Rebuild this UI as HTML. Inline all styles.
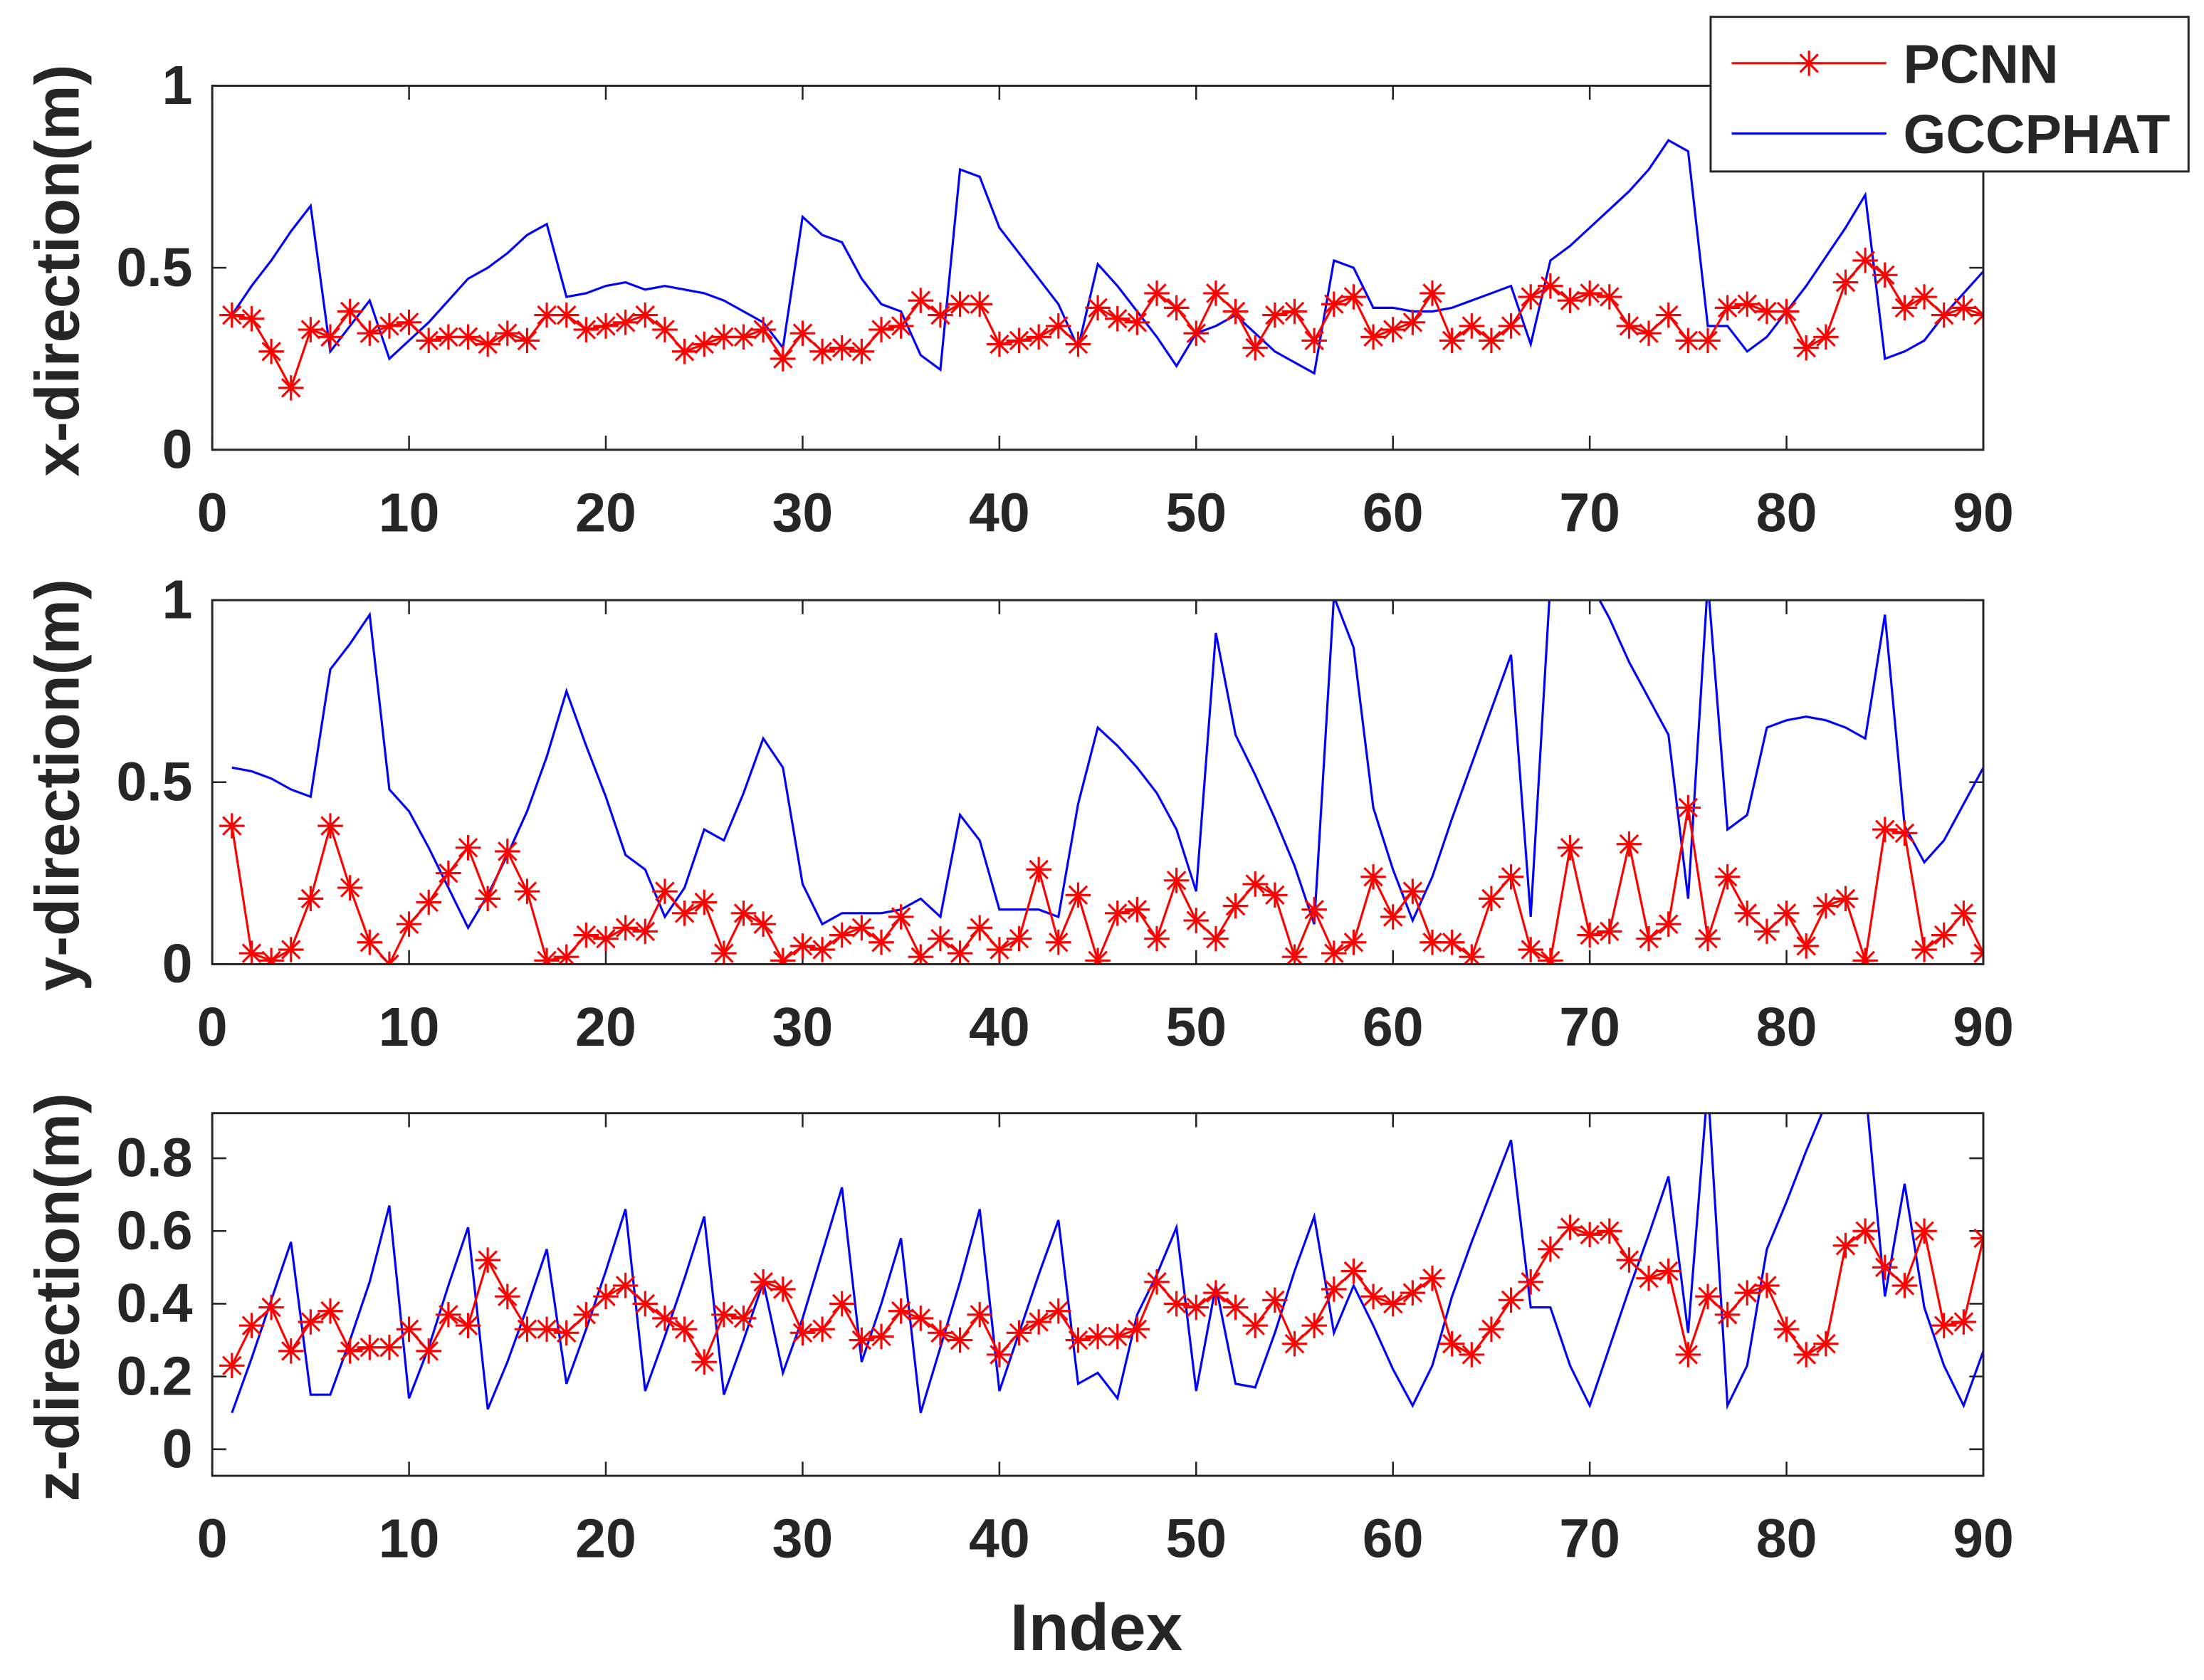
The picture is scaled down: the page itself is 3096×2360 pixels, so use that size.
<!DOCTYPE html>
<html><head><meta charset="utf-8"><style>
html,body{margin:0;padding:0;background:#fff}
svg{display:block}
text{font-family:"Liberation Sans",Arial,sans-serif;font-weight:bold;fill:#262626}
</style></head><body>
<svg id="chart" width="3096" height="2360" viewBox="0 0 1568 1195.3" preserveAspectRatio="none" xmlns="http://www.w3.org/2000/svg">
<rect width="1568" height="1196" fill="#fff"/>
</svg>
<script>
const xTicks=[0,10,20,30,40,50,60,70,80,90];
const pcnnX=[0.37,0.36,0.27,0.17,0.33,0.31,0.38,0.32,0.34,0.35,0.30,0.31,0.31,0.29,0.32,0.30,0.37,0.37,0.33,0.34,0.35,0.37,0.33,0.27,0.29,0.31,0.31,0.33,0.25,0.32,0.27,0.28,0.27,0.33,0.34,0.41,0.37,0.40,0.40,0.29,0.30,0.31,0.34,0.29,0.39,0.36,0.35,0.43,0.39,0.32,0.43,0.38,0.28,0.37,0.38,0.30,0.40,0.42,0.31,0.33,0.35,0.43,0.30,0.34,0.30,0.34,0.42,0.45,0.41,0.43,0.42,0.34,0.32,0.37,0.30,0.30,0.39,0.40,0.38,0.38,0.28,0.31,0.46,0.52,0.48,0.39,0.42,0.37,0.39,0.37];
const gccX=[0.37,0.45,0.52,0.60,0.67,0.27,0.34,0.41,0.25,0.30,0.35,0.41,0.47,0.50,0.54,0.59,0.62,0.42,0.43,0.45,0.46,0.44,0.45,0.44,0.43,0.41,0.38,0.35,0.28,0.64,0.59,0.57,0.47,0.40,0.38,0.26,0.22,0.77,0.75,0.61,0.54,0.47,0.40,0.28,0.51,0.45,0.38,0.31,0.23,0.32,0.34,0.37,0.32,0.27,0.24,0.21,0.52,0.50,0.39,0.39,0.38,0.38,0.39,0.41,0.43,0.45,0.29,0.52,0.56,0.61,0.66,0.71,0.77,0.85,0.82,0.34,0.34,0.27,0.31,0.38,0.45,0.53,0.61,0.70,0.25,0.27,0.30,0.37,0.43,0.49];
const pcnnY=[0.38,0.03,0.01,0.04,0.18,0.38,0.21,0.06,0.00,0.11,0.17,0.25,0.32,0.18,0.31,0.20,0.01,0.02,0.08,0.07,0.10,0.09,0.20,0.14,0.17,0.03,0.14,0.11,0.01,0.05,0.04,0.08,0.10,0.06,0.13,0.02,0.07,0.03,0.10,0.04,0.07,0.26,0.06,0.19,0.01,0.14,0.15,0.07,0.23,0.12,0.07,0.16,0.22,0.19,0.02,0.15,0.03,0.06,0.24,0.13,0.20,0.06,0.06,0.02,0.18,0.24,0.04,0.01,0.32,0.08,0.09,0.33,0.07,0.11,0.43,0.07,0.24,0.14,0.09,0.14,0.05,0.16,0.18,0.01,0.37,0.36,0.04,0.08,0.14,0.03];
const gccY=[0.54,0.53,0.51,0.48,0.46,0.81,0.88,0.96,0.48,0.42,0.32,0.21,0.10,0.19,0.30,0.42,0.57,0.75,0.60,0.46,0.30,0.26,0.13,0.21,0.37,0.34,0.47,0.62,0.54,0.22,0.11,0.14,0.14,0.14,0.15,0.18,0.13,0.41,0.34,0.15,0.15,0.15,0.13,0.44,0.65,0.60,0.54,0.47,0.37,0.20,0.91,0.63,0.52,0.40,0.27,0.11,1.01,0.87,0.43,0.26,0.12,0.24,0.40,0.55,0.70,0.85,0.13,1.05,1.10,1.05,0.95,0.83,0.73,0.63,0.18,1.05,0.37,0.41,0.65,0.67,0.68,0.67,0.65,0.62,0.96,0.38,0.28,0.34,0.44,0.54];
const pcnnZ=[0.23,0.34,0.39,0.27,0.35,0.38,0.27,0.28,0.28,0.33,0.27,0.37,0.34,0.52,0.42,0.33,0.33,0.32,0.37,0.42,0.45,0.40,0.36,0.33,0.24,0.37,0.36,0.46,0.44,0.32,0.33,0.40,0.30,0.31,0.38,0.36,0.32,0.30,0.37,0.26,0.32,0.35,0.38,0.30,0.31,0.31,0.33,0.46,0.40,0.39,0.43,0.39,0.34,0.41,0.29,0.34,0.44,0.49,0.42,0.40,0.43,0.47,0.29,0.26,0.33,0.41,0.46,0.55,0.61,0.59,0.60,0.52,0.47,0.49,0.26,0.42,0.37,0.43,0.45,0.33,0.26,0.29,0.56,0.60,0.50,0.45,0.60,0.34,0.35,0.58];
const gccZ=[0.10,0.25,0.41,0.57,0.15,0.15,0.30,0.46,0.67,0.14,0.28,0.45,0.61,0.11,0.24,0.39,0.55,0.18,0.33,0.49,0.66,0.16,0.31,0.47,0.64,0.15,0.30,0.46,0.21,0.36,0.54,0.72,0.24,0.40,0.58,0.10,0.28,0.46,0.66,0.16,0.32,0.48,0.63,0.18,0.21,0.14,0.37,0.48,0.61,0.16,0.45,0.18,0.17,0.32,0.49,0.64,0.32,0.45,0.34,0.22,0.12,0.23,0.42,0.57,0.71,0.85,0.39,0.39,0.23,0.12,0.28,0.44,0.59,0.75,0.32,1.00,0.12,0.23,0.55,0.68,0.82,0.95,1.00,1.00,0.42,0.73,0.39,0.23,0.12,0.27];
const panels=[
 {name:'x',top:61,bot:320,ymin:0,ymax:1,ticks:[0,0.5,1],labels:['0','0.5','1'],label:'x-direction(m)',p:pcnnX,g:gccX},
 {name:'y',top:427,bot:686,ymin:0,ymax:1,ticks:[0,0.5,1],labels:['0','0.5','1'],label:'y-direction(m)',p:pcnnY,g:gccY},
 {name:'z',top:792,bot:1050,ymin:-0.073,ymax:0.924,ticks:[0,0.2,0.4,0.6,0.8],labels:['0','0.2','0.4','0.6','0.8'],label:'z-direction(m)',p:pcnnZ,g:gccZ}
];
const NS='http://www.w3.org/2000/svg';
const svg=document.getElementById('chart');
const L=151,R=1411;
function mk(tag,attrs,parent){const e=document.createElementNS(NS,tag);for(const k in attrs)e.setAttribute(k,attrs[k]);(parent||svg).appendChild(e);return e;}
const xs=i=>L+(i/90)*(R-L);
panels.forEach(P=>{
 const ys=v=>P.bot-(v-P.ymin)/(P.ymax-P.ymin)*(P.bot-P.top);
 const g=mk('g',{});
 
 
 const cid='clip'+P.name;
 const cp=mk('clipPath',{id:cid},g);mk('rect',{x:L,y:P.top,width:R-L,height:P.bot-P.top},cp);
 xTicks.forEach(t=>{
  mk('line',{x1:xs(t),x2:xs(t),y1:P.bot,y2:P.bot-10,stroke:'#262626','stroke-width':1.3},g);
  mk('line',{x1:xs(t),x2:xs(t),y1:P.top,y2:P.top+10,stroke:'#262626','stroke-width':1.3},g);
  const tx=mk('text',{x:xs(t),y:P.bot+58,'text-anchor':'middle','font-size':39},g);tx.textContent=t;
  
  
 });
 P.ticks.forEach((t,k)=>{
  mk('line',{x1:L,x2:L+10,y1:ys(t),y2:ys(t),stroke:'#262626','stroke-width':1.3},g);
  mk('line',{x1:R,x2:R-10,y1:ys(t),y2:ys(t),stroke:'#262626','stroke-width':1.3},g);
  const tx=mk('text',{x:L-14,y:ys(t)+13,'text-anchor':'end','font-size':39},g);tx.textContent=P.labels[k];
  
  
 });
 const yl=mk('text',{x:0,y:0,'text-anchor':'middle','font-size':44,transform:`translate(56,${(P.top+P.bot)/2+2}) rotate(-90)`},g);
 yl.textContent=P.label;
 
 
 const cg=mk('g',{'clip-path':`url(#${cid})`},g);
 const gl=mk('polyline',{points:P.g.map((v,i)=>xs(i+1)+','+ys(v)).join(' '),fill:'none',stroke:'#0000ff','stroke-width':1.6},cg);
 
 
 const pl=mk('polyline',{points:P.p.map((v,i)=>xs(i+1)+','+ys(v)).join(' '),fill:'none',stroke:'#ff0000','stroke-width':1.6},cg);
 
 
 P.p.forEach((v,i)=>{
  const cx=xs(i+1),cy=ys(v),r=9,d=6.4;
  const m=mk('path',{d:`M${cx-r},${cy}H${cx+r}M${cx},${cy-r}V${cy+r}M${cx-d},${cy-d}L${cx+d},${cy+d}M${cx-d},${cy+d}L${cx+d},${cy-d}`,stroke:'#ff0000','stroke-width':1.6,fill:'none'},cg);
  
  
 });
 mk('rect',{x:L,y:P.top,width:R-L,height:P.bot-P.top,fill:'none',stroke:'#262626','stroke-width':1.5},g);
});
const xl=mk('text',{x:780,y:1174,'text-anchor':'middle','font-size':47});
xl.textContent='Index';


const lg=mk('g',{});


mk('rect',{x:1217,y:12,width:340,height:110,fill:'#fff',stroke:'#262626','stroke-width':1.5},lg);
const e1=mk('g',{},lg);


mk('line',{x1:1232,x2:1342,y1:45,y2:45,stroke:'#ff0000','stroke-width':1.6},e1);
mk('path',{d:'M1278,45H1296M1287,36V54M1280.6,38.6L1293.4,51.4M1280.6,51.4L1293.4,38.6',stroke:'#ff0000','stroke-width':1.6},e1);
const t1=mk('text',{x:1354,y:59,'font-size':39},e1);t1.textContent='PCNN';
const e2=mk('g',{},lg);


mk('line',{x1:1232,x2:1342,y1:95,y2:95,stroke:'#0000ff','stroke-width':1.6},e2);
const t2=mk('text',{x:1354,y:109,'font-size':39},e2);t2.textContent='GCCPHAT';
</script>
</body></html>
